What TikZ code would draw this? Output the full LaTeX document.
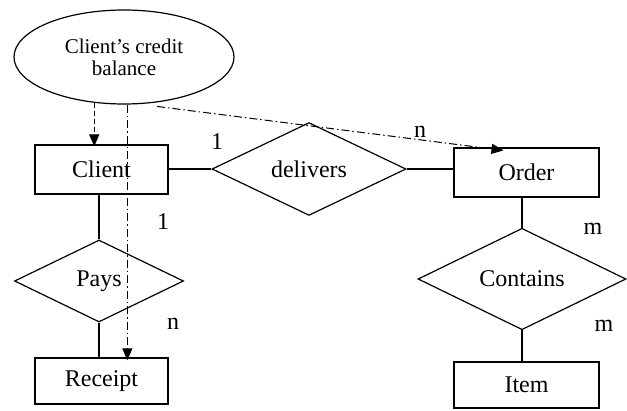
\documentclass[tikz,border=0pt]{standalone}
\usepackage{fontspec}
\setmainfont{Liberation Serif}
\usetikzlibrary{shapes.geometric,arrows.meta}
\tikzset{
  entity/.style={draw, line width=1.2pt, inner sep=0pt, minimum height=49pt},
  relation/.style={draw, diamond, line width=1.2pt, inner sep=0pt},
  attrib/.style={draw, ellipse, line width=1.2pt, inner sep=0pt, align=center, font=\fontsize{21}{24}\selectfont},
  card/.style={inner sep=0pt},
  link/.style={line width=1.2pt},
  dashdot/.style={line width=1pt, dash pattern=on 8pt off 3pt on 1.5pt off 3pt},
  depend/.style={-{Triangle[length=12pt,width=10pt]}}
}
\begin{document}
\begin{tikzpicture}[x=1pt,y=-1pt,font=\fontsize{24}{27}\selectfont]
\useasboundingbox (0,0) rectangle (627,410);
\node[attrib, minimum width=220pt, minimum height=94pt] (bal) at (124,57) {Client's credit\\[-2pt]balance};
\node[entity, minimum width=133pt] (client) at (101.5,169.5) {Client};
\node[relation, minimum width=194pt, minimum height=88pt] (delivers) at (309,169) {delivers};
\node[entity, minimum width=145pt] (order) at (526.5,172.5) {Order};
\node[relation, minimum width=169pt, minimum height=82pt] (pays) at (99,281) {Pays};
\node[entity, minimum width=133pt, minimum height=46pt] (receipt) at (101.5,381) {Receipt};
\node[relation, minimum width=208pt, minimum height=86pt] (contains) at (522,279) {Contains};
\node[entity, minimum width=145pt, minimum height=46pt] (item) at (526.5,385) {Item};

\draw[link] (client.east |- delivers.west) -- (delivers.west);
\draw[link] (delivers.east) -- (delivers.east -| order.west);
\draw[link] (pays.north) -- (pays.north |- client.south);
\draw[link] (pays.south) -- (pays.south |- receipt.north);
\draw[link] (contains.north) -- (contains.north |- order.south);
\draw[link] (contains.south) -- (contains.south |- item.north);

\draw[depend, line width=1pt, dash pattern=on 5pt off 3pt] (bal.237) -- ([yshift=-2pt]bal.237 |- client.north);
\draw[depend, dashdot] (bal.-86) -- ([yshift=-3pt]bal.-86 |- receipt.north);
\draw[depend, dashdot] ([yshift=-4pt]bal.-54) -- ([xshift=-23pt,yshift=-3pt]order.north);

\node[card] (c1) at (217,142) {1};
\node[card] (cn) at (420,132) {n};
\node[card] (p1) at (163,222) {1};
\node[card] (pn) at (173,324) {n};
\node[card] (m1) at (593,229) {m};
\node[card] (m2) at (604,326) {m};
\end{tikzpicture}
\end{document}
